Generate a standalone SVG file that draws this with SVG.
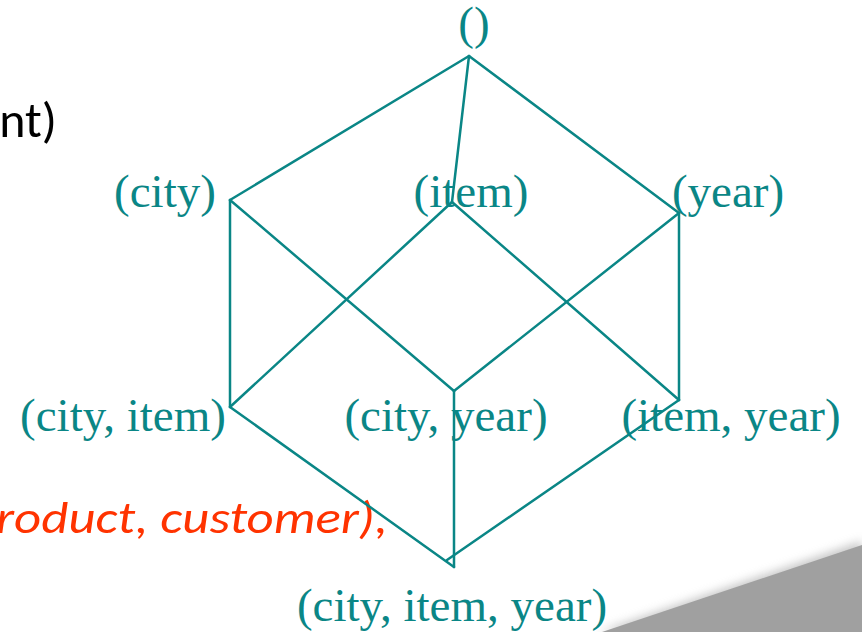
<svg xmlns="http://www.w3.org/2000/svg" width="862" height="632" viewBox="0 0 862 632">
<defs>
<style>
.lbl{font-family:"Liberation Serif","Times New Roman",serif;font-size:47px;fill:#0a8686;text-anchor:middle}
.edge{stroke:#0a8686;stroke-width:2.5;fill:none;stroke-linecap:round}
</style>
<filter id="blur" x="-20%" y="-50%" width="140%" height="200%"><feGaussianBlur stdDeviation="5"/></filter>
</defs>
<rect width="862" height="632" fill="#ffffff"/>
<polygon points="598,632 862,541 862,632" fill="#a0a0a0" opacity="0.6" filter="url(#blur)"/>
<polygon points="602,632 862,545 862,632" fill="#a0a0a0"/>
<text x="57" y="137" font-family="Carlito,'Liberation Sans',sans-serif" font-size="50" fill="#000000" text-anchor="end">nt)</text>
<text x="-4" y="533" font-family="Carlito,'Liberation Sans',sans-serif" font-size="46" font-style="italic" fill="#ff3300" textLength="392" lengthAdjust="spacingAndGlyphs">roduct, customer),</text>
<g id="connectors">
<line class="edge" x1="469" y1="56" x2="230" y2="200"/>
<line class="edge" x1="469" y1="56" x2="452" y2="202"/>
<line class="edge" x1="469" y1="56" x2="679" y2="213"/>
<line class="edge" x1="230" y1="200" x2="230" y2="407"/>
<line class="edge" x1="230" y1="200" x2="454" y2="391"/>
<line class="edge" x1="452" y1="202" x2="230" y2="407"/>
<line class="edge" x1="452" y1="202" x2="679" y2="400"/>
<line class="edge" x1="679" y1="213" x2="454" y2="391"/>
<line class="edge" x1="679" y1="213" x2="679" y2="400"/>
<line class="edge" x1="230" y1="407" x2="454" y2="567"/>
<line class="edge" x1="454" y1="391" x2="454" y2="567"/>
<line class="edge" x1="679" y1="400" x2="447" y2="560"/>
</g>
<g id="n_all"><text class="lbl" x="474" y="39">()</text></g>
<g id="n_city"><text class="lbl" x="165" y="207">(city)</text></g>
<g id="n_item"><text class="lbl" x="471" y="207">(item)</text></g>
<g id="n_year"><text class="lbl" x="728" y="207">(year)</text></g>
<g id="n_city_item"><text class="lbl" x="123" y="431">(city, item)</text></g>
<g id="n_city_year"><text class="lbl" x="446" y="431">(city, year)</text></g>
<g id="n_item_year"><text class="lbl" x="731" y="431">(item, year)</text></g>
<g id="n_city_item_year"><text class="lbl" x="452" y="621">(city, item, year)</text></g>
</svg>
